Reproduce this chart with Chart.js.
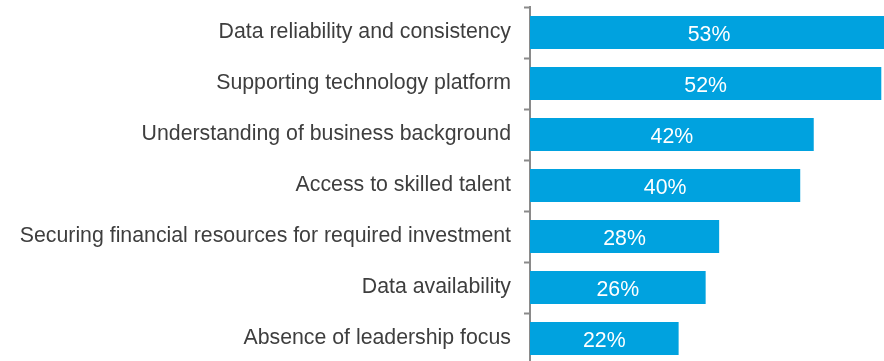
<!DOCTYPE html>
<html>
<head>
<meta charset="utf-8">
<script src="https://cdn.jsdelivr.net/npm/chart.js@4/dist/chart.umd.min.js"></script>
<style>
html,body{margin:0;padding:0;background:#fff;overflow:hidden;}
#wrap{width:884px;height:364px;position:relative;}
</style>
</head>
<body>
<div id="wrap"><canvas id="c"></canvas></div>
<script>
const categories = [
  "Data reliability and consistency",
  "Supporting technology platform",
  "Understanding of business background",
  "Access to skilled talent",
  "Securing financial resources for required investment",
  "Data availability",
  "Absence of leadership focus"
];
const values = [53, 52, 42, 40, 28, 26, 22];
const valueLabels = ["53%", "52%", "42%", "40%", "28%", "26%", "22%"];

const barLabelPlugin = {
  id: 'barLabels',
  afterDatasetsDraw(chart) {
    const ctx = chart.ctx;
    const meta = chart.getDatasetMeta(0);
    ctx.save();
    ctx.fillStyle = '#ffffff';
    ctx.font = '21.3px "Liberation Sans", Arial, sans-serif';
    ctx.textAlign = 'center';
    ctx.textBaseline = 'middle';
    meta.data.forEach((bar, i) => {
      const cx = (bar.x + bar.base) / 2;
      ctx.fillText(valueLabels[i], cx, bar.y + 2.5);
    });
    ctx.restore();
  }
};

new Chart(document.getElementById('c'), {
  type: 'bar',
  data: {
    labels: categories,
    datasets: [{
      data: values,
      backgroundColor: '#00A2DF',
      borderWidth: 0,
      barPercentage: 0.65,
      categoryPercentage: 1.0
    }]
  },
  options: {
    indexAxis: 'y',
    responsive: true,
    maintainAspectRatio: false,
    animation: false,
    layout: { padding: { top: 7, right: 0, bottom: 0, left: 0 } },
    plugins: { legend: { display: false }, tooltip: { enabled: false } },
    scales: {
      x: {
        display: false,
        min: 0,
        max: 52.4
      },
      y: {
        afterFit(scale) {
          scale.width = 530;
          scale.paddingTop = 0;
          scale.paddingBottom = 0;
        },
        grid: {
          offset: true,
          drawOnChartArea: false,
          drawTicks: true,
          tickLength: 6,
          tickColor: '#8a8a8a',
          tickWidth: 2
        },
        border: { display: true, color: '#8a8a8a', width: 2 },
        ticks: {
          padding: 13,
          color: '#3e3e3e',
          font: { family: '"Liberation Sans", Arial, sans-serif', size: 21.3 }
        }
      }
    }
  },
  plugins: [barLabelPlugin]
});
</script>
</body>
</html>
